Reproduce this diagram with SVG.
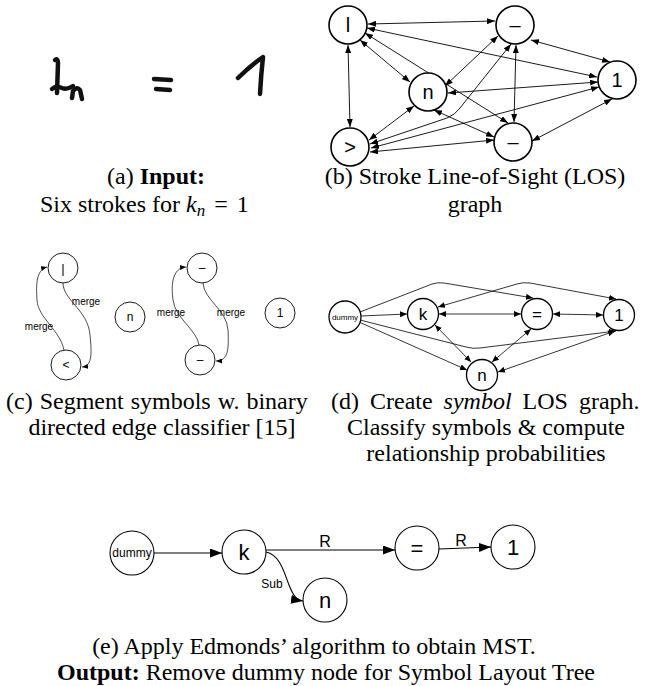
<svg xmlns="http://www.w3.org/2000/svg" width="646" height="686" viewBox="0 0 646 686">
<style>
.cap{font-family:"Liberation Serif","Times New Roman",serif;font-size:24px;fill:#000}
.sans{font-family:"Liberation Sans",Arial,sans-serif;fill:#000;text-anchor:middle}
.ink{fill:none;stroke:#111;stroke-width:4.5;stroke-linecap:round;stroke-linejoin:round}
.nb{fill:#fff;stroke:#000;stroke-width:1.6}
.nc{fill:#fff;stroke:#000;stroke-width:0.9}
.nd{fill:#fff;stroke:#000;stroke-width:1.3}
.ne{fill:#fff;stroke:#000;stroke-width:1.1}
.eb{fill:none;stroke:#000;stroke-width:0.9;marker-start:url(#ab);marker-end:url(#ab)}
.ec{fill:none;stroke:#000;stroke-width:0.7;marker-end:url(#ac)}
.ed2{fill:none;stroke:#000;stroke-width:0.8;marker-start:url(#ad);marker-end:url(#ad)}
.ed1{fill:none;stroke:#000;stroke-width:0.8;marker-end:url(#ad)}
.ee{fill:none;stroke:#000;stroke-width:1.1;marker-end:url(#ae)}
</style>
<defs>
<marker id="ab" markerUnits="userSpaceOnUse" markerWidth="8" markerHeight="6" refX="8" refY="3" orient="auto-start-reverse"><path d="M0,0 L8,3 L0,6 z" fill="#000"/></marker>
<marker id="ac" markerUnits="userSpaceOnUse" markerWidth="6" markerHeight="5" refX="6" refY="2.5" orient="auto"><path d="M0,0 L6,2.5 L0,5 z" fill="#000"/></marker>
<marker id="ad" markerUnits="userSpaceOnUse" markerWidth="7" markerHeight="6" refX="7" refY="3" orient="auto-start-reverse"><path d="M0,0 L7,3 L0,6 z" fill="#000"/></marker>
<marker id="ae" markerUnits="userSpaceOnUse" markerWidth="12" markerHeight="9" refX="12" refY="4.5" orient="auto"><path d="M0,0 L12,4.5 L0,9 z" fill="#000"/></marker>
</defs>

<!-- (a) handwritten input strokes -->
<g id="input-strokes">
<path class="ink" d="M55,60 Q58,58 58,63 L57,93"/>
<path class="ink" d="M52,89 Q56,85 62,88 Q67,90 73,86"/>
<path class="ink" d="M72,98 L73,91 Q77,86 80,90 L82,99"/>
<path class="ink" d="M154,79 L171,80"/>
<path class="ink" d="M156,89 L170,90"/>
<path class="ink" d="M238,78 Q250,66 263,57 Q261,75 260,94"/>
</g>

<!-- (b) stroke LOS graph -->
<g id="b-edges">
<path class="eb" d="M368,24 L495,21"/>
<path class="eb" d="M367,28 L597,77"/>
<path class="eb" d="M365,33 L508,123"/>
<path class="eb" d="M360,40 L410,82"/>
<path class="eb" d="M348,45 L350,127"/>
<path class="eb" d="M498,36 L445,86"/>
<path class="eb" d="M531,40 L610,62"/>
<path class="eb" d="M516,45 L514,122"/>
<path class="eb" d="M511,44 L460,108 Q455,115 447,118 L370,144"/>
<path class="eb" d="M598,82 L448,93"/>
<path class="eb" d="M599,87 L371,148"/>
<path class="eb" d="M612,99 L532,141"/>
<path class="eb" d="M414,106 L369,140"/>
<path class="eb" d="M434,110 L494,137"/>
<path class="eb" d="M494,140 L370,152"/>
</g>
<g id="b-node-l"><circle class="nb" cx="348" cy="25" r="19"/><text class="sans" x="348" y="32" font-size="20">l</text></g>
<g id="b-node-dash1"><circle class="nb" cx="515" cy="25" r="19"/><text class="sans" x="515" y="32" font-size="20">–</text></g>
<g id="b-node-1"><circle class="nb" cx="617" cy="80" r="19"/><text class="sans" x="617" y="87" font-size="20">1</text></g>
<g id="b-node-n"><circle class="nb" cx="428" cy="92" r="19"/><text class="sans" x="428" y="99" font-size="20">n</text></g>
<g id="b-node-gt"><circle class="nb" cx="350" cy="147" r="19"/><text class="sans" x="350" y="154" font-size="20">&gt;</text></g>
<g id="b-node-dash2"><circle class="nb" cx="513" cy="142" r="19"/><text class="sans" x="513" y="149" font-size="20">–</text></g>

<!-- captions a, b -->
<text class="cap" x="156" y="184" text-anchor="middle">(a) <tspan font-weight="bold">Input:</tspan></text>
<text class="cap" x="40" y="212">Six strokes for <tspan font-style="italic">k</tspan><tspan font-style="italic" font-size="17" dy="4">n</tspan><tspan dy="-4" dx="9">=</tspan><tspan dx="9">1</tspan></text>
<text class="cap" x="475" y="184" text-anchor="middle">(b) Stroke Line-of-Sight (LOS)</text>
<text class="cap" x="475" y="212" text-anchor="middle">graph</text>

<!-- (c) segmentation -->
<g id="c-edges">
<path class="ec" d="M63,283 C63,300 88,310 90,335 C92,355 92,366 82,367"/>
<path class="ec" d="M64,350 C60,330 38,318 37,300 C36,285 36,270 47,267"/>
<path class="ec" d="M203,283 C204,300 227,310 228,330 C229,350 228,361 216,361"/>
<path class="ec" d="M199,345 C197,330 175,318 173,300 C171,285 172,268 186,267"/>
<text class="sans" x="86" y="305" font-size="10">merge</text>
<text class="sans" x="39" y="330" font-size="10">merge</text>
<text class="sans" x="171" y="316" font-size="10">merge</text>
<text class="sans" x="231" y="316" font-size="10">merge</text>
</g>
<g id="c-node-bar"><circle class="nc" cx="63" cy="268" r="15"/><text class="sans" x="63" y="273" font-size="13">|</text></g>
<g id="c-node-lt"><circle class="nc" cx="66" cy="365" r="15"/><text class="sans" x="66" y="369" font-size="12">&lt;</text></g>
<g id="c-node-n"><circle class="nc" cx="130" cy="317" r="15"/><text class="sans" x="130" y="321" font-size="12">n</text></g>
<g id="c-node-dash1"><circle class="nc" cx="202" cy="268" r="15"/><text class="sans" x="202" y="272" font-size="12">–</text></g>
<g id="c-node-dash2"><circle class="nc" cx="200" cy="360" r="15"/><text class="sans" x="200" y="364" font-size="12">–</text></g>
<g id="c-node-1"><circle class="nc" cx="280" cy="313" r="15"/><text class="sans" x="280" y="317" font-size="12">1</text></g>

<!-- (d) symbol LOS graph -->
<g id="d-edges">
<path class="ed1" d="M361,316 L407,314"/>
<path class="ed1" d="M360,312 L432,284 Q438,282 444,283 L533,298"/>
<path class="ed2" d="M438,307 L517,284 Q523,282 530,283 L616,299"/>
<path class="ed1" d="M360,320 L466,347 Q473,349 480,348 L616,331"/>
<path class="ed1" d="M359,322 L467,370"/>
<path class="ed2" d="M439,314 L521,314"/>
<path class="ed2" d="M553,314 L603,315"/>
<path class="ed2" d="M435,325 L471,362"/>
<path class="ed2" d="M531,329 L492,362"/>
<path class="ed2" d="M615,331 L498,372"/>
</g>
<g id="d-node-dummy"><circle class="nd" cx="345" cy="317" r="16"/><text class="sans" x="345" y="320" font-size="8">dummy</text></g>
<g id="d-node-k"><circle class="nd" cx="423" cy="314" r="15.5"/><text class="sans" x="423" y="320" font-size="17">k</text></g>
<g id="d-node-eq"><circle class="nd" cx="537" cy="314" r="15.5"/><text class="sans" x="537" y="320" font-size="17">=</text></g>
<g id="d-node-1"><circle class="nd" cx="619" cy="315" r="15.5"/><text class="sans" x="619" y="321" font-size="17">1</text></g>
<g id="d-node-n"><circle class="nd" cx="482" cy="375" r="15.5"/><text class="sans" x="482" y="381" font-size="17">n</text></g>

<!-- captions c, d -->
<text class="cap" x="6" y="409" word-spacing="1">(c) Segment symbols w. binary</text>
<text class="cap" x="162" y="435" text-anchor="middle">directed edge classifier [15]</text>
<text class="cap" x="331" y="409" word-spacing="5">(d) Create <tspan font-style="italic">symbol</tspan> LOS graph.</text>
<text class="cap" x="486" y="435" text-anchor="middle">Classify symbols &amp; compute</text>
<text class="cap" x="486" y="461" text-anchor="middle">relationship probabilities</text>

<!-- (e) MST -->
<g id="e-edges">
<path class="ee" d="M154,553 L222,553"/>
<path class="ee" d="M266,550 L395,550"/>
<path class="ee" d="M439,549 L491,547"/>
<path class="ee" d="M266,552 C280,555 284,572 289,585 C293,595 296,600 303,601"/>
<text class="sans" x="325" y="547" font-size="16">R</text>
<text class="sans" x="461" y="546" font-size="16">R</text>
<text class="sans" x="272" y="588" font-size="12">Sub</text>
</g>
<g id="e-node-dummy"><circle class="ne" cx="132" cy="553" r="22"/><text class="sans" x="132" y="557" font-size="12">dummy</text></g>
<g id="e-node-k"><circle class="ne" cx="244" cy="552" r="22"/><text class="sans" x="244" y="560" font-size="22">k</text></g>
<g id="e-node-eq"><circle class="ne" cx="417" cy="548" r="22"/><text class="sans" x="417" y="556" font-size="22">=</text></g>
<g id="e-node-1"><circle class="ne" cx="513" cy="547" r="22"/><text class="sans" x="513" y="555" font-size="22">1</text></g>
<g id="e-node-n"><circle class="ne" cx="325" cy="600" r="22"/><text class="sans" x="325" y="608" font-size="22">n</text></g>

<!-- caption e -->
<text class="cap" x="314" y="654" text-anchor="middle">(e) Apply Edmonds’ algorithm to obtain MST.</text>
<text class="cap" x="326" y="680" text-anchor="middle"><tspan font-weight="bold">Output:</tspan> Remove dummy node for Symbol Layout Tree</text>
</svg>
